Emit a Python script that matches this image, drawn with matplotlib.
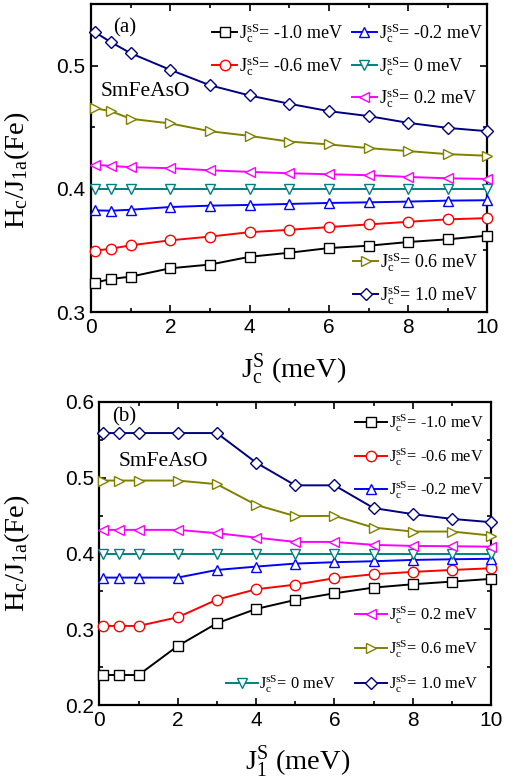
import matplotlib
matplotlib.use("Agg")
import matplotlib.pyplot as plt
from matplotlib.legend import Legend
from matplotlib.ticker import MultipleLocator, FormatStrFormatter

plt.rcParams['mathtext.fontset'] = 'custom'
plt.rcParams['mathtext.rm'] = 'Liberation Serif'
plt.rcParams['mathtext.it'] = 'Liberation Serif:italic'
plt.rcParams['mathtext.bf'] = 'Liberation Serif:bold'
plt.rcParams['font.family'] = ['Liberation Sans', 'DejaVu Sans']

# ---------------- data ----------------
x = [0.1, 0.5, 1, 2, 3, 4, 5, 6, 7, 8, 9, 10]
jss_labels = ['-1.0', '-0.6', '-0.2', '0', '0.2', '0.6', '1.0']

# panel (a): H_c/J_1a vs J_c^S
a_m10 = [0.3238, 0.3268, 0.3287, 0.3355, 0.3385, 0.3448, 0.3481, 0.3519, 0.3538, 0.3568, 0.3590, 0.3620]
a_m06 = [0.3497, 0.3514, 0.3541, 0.3582, 0.3612, 0.3648, 0.3667, 0.3689, 0.3711, 0.3732, 0.3752, 0.3762]
a_m02 = [0.3825, 0.3822, 0.3830, 0.3852, 0.3863, 0.3869, 0.3877, 0.3885, 0.3890, 0.3896, 0.3904, 0.3907]
a_p00 = [0.4000, 0.4000, 0.4000, 0.4000, 0.4000, 0.4000, 0.4000, 0.4000, 0.4000, 0.4000, 0.4000, 0.4000]
a_p02 = [0.4194, 0.4186, 0.4175, 0.4167, 0.4150, 0.4137, 0.4126, 0.4118, 0.4110, 0.4096, 0.4085, 0.4080]
a_p06 = [0.4653, 0.4630, 0.4568, 0.4530, 0.4467, 0.4429, 0.4383, 0.4360, 0.4330, 0.4306, 0.4281, 0.4268]
a_p10 = [0.5270, 0.5190, 0.5100, 0.4965, 0.4840, 0.4757, 0.4690, 0.4630, 0.4590, 0.4535, 0.4494, 0.4467]

# panel (b): H_c/J_1a vs J_1^S
b_m10 = [0.2396, 0.2396, 0.2396, 0.2779, 0.3079, 0.3268, 0.3387, 0.3475, 0.3550, 0.3594, 0.3629, 0.3665]
b_m06 = [0.3044, 0.3044, 0.3044, 0.3158, 0.3391, 0.3528, 0.3589, 0.3674, 0.3726, 0.3757, 0.3783, 0.3805]
b_m02 = [0.3682, 0.3682, 0.3682, 0.3682, 0.3783, 0.3827, 0.3867, 0.3885, 0.3898, 0.3915, 0.3924, 0.3930]
b_p00 = [0.4000, 0.4000, 0.4000, 0.4000, 0.4000, 0.4000, 0.4000, 0.4000, 0.4000, 0.4000, 0.4000, 0.4000]
b_p02 = [0.4312, 0.4312, 0.4312, 0.4312, 0.4268, 0.4210, 0.4153, 0.4153, 0.4114, 0.4100, 0.4096, 0.4090]
b_p06 = [0.4963, 0.4963, 0.4963, 0.4963, 0.4915, 0.4642, 0.4493, 0.4497, 0.4342, 0.4290, 0.4290, 0.4237]
b_p10 = [0.5590, 0.5590, 0.5590, 0.5590, 0.5590, 0.5200, 0.4900, 0.4900, 0.4600, 0.4520, 0.4457, 0.4413]

a_series = [a_m10, a_m06, a_m02, a_p00, a_p02, a_p06, a_p10]
b_series = [b_m10, b_m06, b_m02, b_p00, b_p02, b_p06, b_p10]

colors = ['#000000', '#ff0000', '#0000ff', '#008080', '#ff00ff', '#808000', '#000080']
markers = ['s', 'o', '^', 'v', '<', '>', 'D']
msizes = [7, 7.5, 7.5, 7.5, 7.5, 7.5, 6.5]

fig = plt.figure(figsize=(5.23, 7.83), dpi=100)
ax_a = fig.add_axes([0.174, 0.6015, 0.758, 0.3935])
ax_b = fig.add_axes([0.190, 0.0996, 0.749, 0.387])

serif = 'Liberation Serif'


def draw(ax, series):
    handles = []
    for ys, c, m, ms in zip(series, colors, markers, msizes):
        ln, = ax.plot(x, ys, color=c, marker=m, markersize=ms,
                      markerfacecolor='white', markeredgecolor=c,
                      markeredgewidth=1.0, linewidth=1.4, clip_on=False, zorder=3)
        handles.append(ln)
    return handles


def style(ax, ylo, yhi):
    ax.set_xlim(0, 10)
    ax.set_ylim(ylo, yhi)
    ax.xaxis.set_major_locator(MultipleLocator(2))
    ax.xaxis.set_minor_locator(MultipleLocator(1))
    ax.yaxis.set_major_locator(MultipleLocator(0.1))
    ax.yaxis.set_minor_locator(MultipleLocator(0.05))
    ax.tick_params(which='both', direction='in', top=True, right=True,
                   width=1.2, labelsize=15)
    ax.tick_params(which='major', length=5, pad=4)
    ax.tick_params(which='minor', length=3)
    for sp in ax.spines.values():
        sp.set_linewidth(1.6)
    ax.yaxis.set_major_formatter(FormatStrFormatter('%.1f'))
    ax.xaxis.set_major_formatter(FormatStrFormatter('%d'))


def leg(ax, h, label, fx, fy, hl, fs):
    lg = Legend(ax, [h], [label], loc='center left', bbox_to_anchor=(fx, fy),
                frameon=False, handlelength=hl, handletextpad=0.1,
                borderpad=0, borderaxespad=0,
                prop={'family': serif, 'size': fs})
    ax.add_artist(lg)


def lab(s):
    return r'$\mathrm{J_c^{sS}}$= ' + s + ' meV'


ha = draw(ax_a, a_series)
hb = draw(ax_b, b_series)
style(ax_a, 0.3, 0.55)
style(ax_b, 0.2, 0.6)

# panel (a) legends
pos_a = [(0.305, 0.906), (0.305, 0.799), (0.658, 0.906), (0.658, 0.799),
         (0.658, 0.695), (0.661, 0.162), (0.661, 0.055)]
for h, s, (fx, fy) in zip(ha, jss_labels, pos_a):
    leg(ax_a, h, lab(s), fx, fy, 1.4, 13)

# panel (b) legends
pos_b = [(0.653, 0.931), (0.653, 0.818), (0.653, 0.710), (0.323, 0.069),
         (0.653, 0.297), (0.653, 0.185), (0.653, 0.069)]
for h, s, (fx, fy) in zip(hb, jss_labels, pos_b):
    leg(ax_b, h, lab(s), fx, fy, 1.95, 11.8)

ax_a.text(0.055, 0.922, '(a)', transform=ax_a.transAxes, ha='left', va='center',
          family=serif, fontsize=15)
ax_a.text(0.025, 0.717, 'SmFeAsO', transform=ax_a.transAxes, ha='left', va='center',
          family=serif, fontsize=15.5)
ax_b.text(0.032, 0.95, '(b)', transform=ax_b.transAxes, ha='left', va='center',
          family=serif, fontsize=15)
ax_b.text(0.048, 0.805, 'SmFeAsO', transform=ax_b.transAxes, ha='left', va='center',
          family=serif, fontsize=15.5)

ylab = r'$\mathrm{H_c/J_{1a}(Fe)}$'
ax_a.set_ylabel(ylab, fontsize=20.5)
ax_b.set_ylabel(ylab, fontsize=20.5)
ax_a.yaxis.set_label_coords(-0.149, 0.46)
ax_b.yaxis.set_label_coords(-0.172, 0.5)

ax_a.set_xlabel(r'$\mathrm{J_c^S}$ (meV)', fontsize=20.5, family=serif)
ax_b.set_xlabel(r'$\mathrm{J_1^S}$ (meV)', fontsize=20.5, family=serif)
ax_a.xaxis.set_label_coords(0.51, -0.13)
ax_b.xaxis.set_label_coords(0.505, -0.13)

fig.savefig('out.png', dpi=100)
